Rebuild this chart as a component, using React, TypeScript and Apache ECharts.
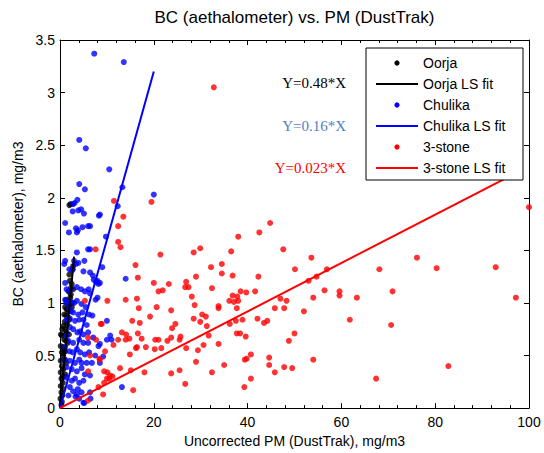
import { useEffect, useRef } from "react";
import * as echarts from "echarts";

const oorjaPoints: number[][] = [
  [2.3, 1.94], [2.0, 1.93], [2.8, 1.35], [2.7, 1.32], [2.0, 1.27], [2.1, 1.21], [2.5, 1.18], [2.3, 1.14],
  [1.8, 1.11], [2.3, 1.08], [2.8, 1.13], [1.3, 1.03], [1.6, 1.0], [2.1, 0.99], [2.6, 1.0], [2.5, 0.96],
  [1.4, 0.94], [1.1, 0.96], [0.9, 0.89], [1.3, 0.88], [1.8, 0.86], [2.0, 0.84], [0.7, 0.78], [1.1, 0.75],
  [1.4, 0.72], [1.9, 0.7], [0.4, 0.69], [0.9, 0.65], [1.3, 0.64], [1.6, 0.62], [0.15, 0.59], [0.7, 0.58],
  [1.1, 0.54], [0.4, 0.53], [0.6, 0.5], [0.9, 0.46], [0.15, 0.45], [1.3, 0.43], [0.4, 0.4], [0.7, 0.37],
  [0.15, 0.34], [1.1, 0.32], [0.3, 0.28], [0.6, 0.24], [0.15, 0.21], [0.7, 0.18], [0.3, 0.15], [0.5, 0.12],
  [0.1, 0.09], [0.4, 0.06], [1.0, 0.82], [0.5, 0.75], [1.2, 0.7], [0.8, 0.55], [0.2, 0.7], [1.5, 0.8],
  [0.3, 0.03], [0.8, 0.3], [1.7, 0.92], [2.2, 1.05],
];

const chulikaPoints: number[][] = [
  [7.3, 3.37], [13.6, 3.29], [4.1, 2.55], [5.5, 2.47], [10.5, 2.27], [4.1, 2.13], [5.3, 2.08], [13.3, 2.1],
  [20.0, 2.03], [3.7, 1.98], [3.1, 1.95], [2.8, 1.94], [12.3, 1.92], [2.7, 1.87], [3.9, 1.88], [4.5, 1.89],
  [5.1, 1.85], [8.3, 1.83], [1.1, 1.76], [3.4, 1.71], [4.8, 1.72], [6.0, 1.73], [6.4, 1.73], [1.9, 1.67],
  [3.6, 1.67], [3.8, 1.69], [9.8, 1.63], [6.4, 1.51], [6.0, 1.51], [3.6, 1.48], [0.9, 1.37], [1.1, 1.4],
  [3.0, 1.4], [3.4, 1.37], [3.9, 1.38], [5.2, 1.4], [9.0, 1.34], [2.6, 1.31], [2.0, 1.32], [5.0, 1.3],
  [6.4, 1.29], [7.0, 1.26], [7.2, 1.22], [7.7, 1.2], [8.0, 1.21], [8.2, 1.18], [14.0, 1.23], [1.1, 1.19],
  [1.4, 1.13], [2.1, 1.11], [3.6, 1.15], [4.5, 1.13], [5.3, 1.11], [6.1, 1.13], [6.4, 1.09], [7.6, 1.03],
  [8.0, 1.05], [1.1, 1.03], [1.3, 1.0], [2.3, 1.01], [3.0, 1.0], [3.6, 1.02], [4.6, 0.99], [5.5, 0.96],
  [2.0, 0.95], [2.3, 0.92], [2.8, 0.91], [3.9, 0.89], [4.8, 0.91], [6.2, 0.89], [6.9, 0.88], [10.0, 0.83],
  [1.4, 0.84], [2.1, 0.85], [3.2, 0.83], [4.1, 0.84], [5.0, 0.84], [5.7, 0.79], [2.1, 0.77], [2.8, 0.75],
  [3.7, 0.72], [4.3, 0.73], [5.0, 0.7], [6.0, 0.72], [7.1, 0.67], [10.7, 0.69], [10.0, 0.65], [11.0, 0.65],
  [1.4, 0.69], [1.8, 0.64], [2.8, 0.62], [4.1, 0.65], [5.0, 0.62], [6.0, 0.62], [8.2, 0.59], [8.5, 0.61],
  [1.1, 0.58], [2.0, 0.54], [2.7, 0.53], [3.6, 0.56], [4.3, 0.53], [5.3, 0.51], [6.2, 0.53], [7.5, 0.5],
  [9.2, 0.49], [1.1, 0.46], [2.1, 0.45], [3.2, 0.43], [4.1, 0.46], [4.6, 0.43], [5.7, 0.43], [6.8, 0.43],
  [8.5, 0.43], [1.4, 0.39], [2.5, 0.37], [3.6, 0.35], [4.6, 0.38], [5.3, 0.32], [6.4, 0.31], [1.4, 0.29],
  [2.5, 0.26], [3.2, 0.28], [4.1, 0.24], [5.0, 0.26], [2.1, 0.2], [2.8, 0.16], [3.8, 0.18], [4.6, 0.15],
  [6.4, 0.15], [13.2, 0.2], [1.8, 0.12], [3.6, 0.13], [5.0, 0.05], [4.1, 0.09], [6.5, 0.09], [5.2, 0.05],
  [3.3, 0.11], [8.5, 1.84], [8.5, 1.19],
];

const stonePoints: number[][] = [
  [32.8, 3.05], [11.5, 1.97], [19.5, 1.96], [100, 1.91], [13.5, 1.82], [44.8, 1.76], [12.4, 1.73], [42.5, 1.67],
  [38.0, 1.63], [12.4, 1.58], [12.9, 1.53], [7.6, 1.51], [47.6, 1.51], [36.5, 1.49], [28.5, 1.48], [29.9, 1.52],
  [21.4, 1.46], [53.6, 1.43], [76.1, 1.43], [16.1, 1.36], [32.2, 1.34], [34.5, 1.37], [68.1, 1.32], [80.3, 1.33],
  [92.9, 1.34], [50.1, 1.32], [56.9, 1.32], [34.5, 1.28], [36.8, 1.26], [29.0, 1.25], [42.3, 1.25], [54.7, 1.25],
  [16.6, 1.24], [53.0, 1.21], [20.0, 1.19], [26.9, 1.2], [23.2, 1.18], [32.4, 1.14], [26.7, 1.15], [27.4, 1.15],
  [56.4, 1.12], [21.0, 1.11], [21.9, 1.12], [38.5, 1.11], [39.7, 1.1], [41.6, 1.11], [59.6, 1.11], [59.6, 1.07],
  [70.9, 1.11], [36.8, 1.07], [37.8, 1.06], [28.1, 1.06], [54.0, 1.05], [63.3, 1.05], [97.2, 1.05], [47.0, 1.04],
  [48.3, 1.02], [36.1, 1.02], [37.1, 1.01], [38.0, 1.02], [10.1, 1.02], [5.3, 1.02], [14.0, 1.03], [16.4, 1.04],
  [20.6, 0.96], [28.7, 0.98], [33.8, 0.97], [33.8, 0.95], [37.7, 0.95], [45.8, 0.95], [47.8, 0.95], [16.8, 0.95],
  [23.7, 0.93], [52.0, 0.92], [19.2, 0.87], [28.5, 0.85], [30.3, 0.89], [31.1, 0.87], [15.4, 0.83], [17.0, 0.81],
  [8.9, 0.8], [8.7, 0.8], [29.9, 0.82], [24.6, 0.8], [36.2, 0.8], [37.5, 0.83], [38.9, 0.84], [42.1, 0.85],
  [43.5, 0.81], [44.2, 0.83], [61.8, 0.84], [31.3, 0.78], [70.6, 0.79], [23.9, 0.76], [13.2, 0.72], [14.1, 0.7],
  [14.8, 0.66], [14.0, 0.65], [16.6, 0.71], [17.4, 0.66], [12.4, 0.65], [6.0, 0.67], [7.7, 0.65], [37.7, 0.71],
  [38.4, 0.71], [50.0, 0.71], [31.7, 0.69], [39.6, 0.68], [25.7, 0.68], [25.5, 0.65], [20.3, 0.65], [21.0, 0.65],
  [23.7, 0.67], [22.9, 0.64], [48.8, 0.64], [11.4, 0.6], [30.6, 0.6], [33.8, 0.61], [16.2, 0.57], [16.4, 0.58],
  [18.3, 0.58], [26.9, 0.57], [20.2, 0.56], [21.6, 0.57], [29.4, 0.55], [9.6, 0.54], [14.9, 0.51], [40.7, 0.51],
  [8.5, 0.46], [8.4, 0.47], [6.4, 0.5], [39.4, 0.46], [39.8, 0.47], [54.0, 0.46], [29.0, 0.44], [44.6, 0.48],
  [35.0, 0.41], [44.6, 0.41], [82.8, 0.4], [12.8, 0.38], [47.8, 0.39], [49.5, 0.38], [15.1, 0.36], [18.0, 0.34],
  [9.4, 0.35], [10.1, 0.34], [10.7, 0.31], [11.2, 0.3], [10.0, 0.28], [9.4, 0.24], [6.0, 0.35], [25.5, 0.36],
  [23.7, 0.33], [32.4, 0.34], [45.8, 0.34], [10.5, 0.28], [40.7, 0.28], [67.4, 0.28], [26.7, 0.23], [8.2, 0.2],
  [39.3, 0.2], [15.6, 0.17], [9.2, 0.13], [5.9, 0.07],
];

const seriesNames = ["Oorja", "Chulika", "3-stone"];
const seriesColors = ["#000000", "#0000ff", "#ff0000"];
const fitSlopes = [0.48, 0.16, 0.023];
const fitXMax = [3, 20, 98];
const fitLabels = ["Y=0.48*X", "Y=0.16*X", "Y=0.023*X"];
const fitLabelColors = ["#000000", "#4f7fc0", "#ff0000"];

const titleText = "BC (aethalometer) vs. PM (DustTrak)";
const xTitle = "Uncorrected PM (DustTrak), mg/m3";
const yTitle = "BC (aethalometer), mg/m3";

const SANS = "'Liberation Sans', Arial, Helvetica, sans-serif";
const SERIF = "'Liberation Serif', 'Times New Roman', serif";

export default function App() {
  const ref = useRef<HTMLDivElement>(null);

  useEffect(() => {
    if (!ref.current) return;
    const chart = echarts.init(ref.current, null, { renderer: "svg" });

    const pointSets = [oorjaPoints, chulikaPoints, stonePoints];
    const series: any[] = [];
    seriesNames.forEach((name, i) => {
      series.push({
        name,
        type: "scatter",
        data: pointSets[i],
        symbol: "circle",
        symbolSize: 6,
        itemStyle: { color: seriesColors[i] },
        xAxisIndex: 0,
        yAxisIndex: 0,
      });
      series.push({
        name: name + " LS fit",
        type: "line",
        data: [
          [0, 0],
          [fitXMax[i], fitSlopes[i] * fitXMax[i]],
        ],
        showSymbol: false,
        symbol: "none",
        lineStyle: { color: seriesColors[i], width: 2 },
        itemStyle: { color: seriesColors[i] },
        xAxisIndex: 0,
        yAxisIndex: 0,
      });
    });

    const tickCommon = {
      axisLine: { show: true, onZero: false, lineStyle: { color: "#000", width: 1 } },
      axisTick: { show: true, inside: true, length: 5, lineStyle: { color: "#000", width: 1 } },
      splitLine: { show: false },
    };

    // Legend (MATLAB-style box) built from graphic elements, drawn above the series
    const Z = 100;
    const legendX = 366;
    const legendY = 48;
    const legendW = 157;
    const legendH = 132;
    const rowH = 21;
    const legendChildren: any[] = [
      {
        type: "rect",
        z: Z,
        shape: { x: legendX, y: legendY, width: legendW, height: legendH },
        style: { fill: "#ffffff", stroke: "#000000", lineWidth: 1 },
      },
    ];
    seriesNames.forEach((name, i) => {
      const yPt = legendY + 15 + rowH * (2 * i);
      const yLn = yPt + rowH;
      legendChildren.push({
        type: "circle",
        z: Z + 1,
        shape: { cx: 397, cy: yPt, r: 2.6 },
        style: { fill: seriesColors[i] },
      });
      legendChildren.push({
        type: "text",
        z: Z + 1,
        x: 423,
        y: yPt,
        style: { text: name, fontSize: 14, fontFamily: SANS, fill: "#000", align: "left", verticalAlign: "middle" },
      });
      legendChildren.push({
        type: "line",
        z: Z + 1,
        shape: { x1: 376, y1: yLn, x2: 418, y2: yLn },
        style: { stroke: seriesColors[i], lineWidth: 2 },
      });
      legendChildren.push({
        type: "text",
        z: Z + 1,
        x: 423,
        y: yLn,
        style: {
          text: name + " LS fit",
          fontSize: 14,
          fontFamily: SANS,
          fill: "#000",
          align: "left",
          verticalAlign: "middle",
        },
      });
    });

    const annotationY = [83, 126, 168];
    const annotations = fitLabels.map((t, i) => ({
      type: "text",
      z: Z,
      x: 346,
      y: annotationY[i],
      style: {
        text: t,
        fontSize: 15,
        fontFamily: SERIF,
        fill: fitLabelColors[i],
        align: "right",
        verticalAlign: "middle",
      },
    }));

    const option: any = {
      animation: false,
      backgroundColor: "#ffffff",
      title: {
        text: titleText,
        left: 294.5,
        top: 9,
        padding: 0,
        textAlign: "center",
        textStyle: { fontSize: 17, fontWeight: "normal", fontFamily: SANS, color: "#000" },
      },
      grid: { left: 60, right: 15, top: 40, bottom: 44, containLabel: false },
      xAxis: [
        {
          type: "value",
          position: "bottom",
          min: 0,
          max: 100,
          interval: 20,
          ...tickCommon,
          minorTick: { show: true, splitNumber: 5, length: 3, lineStyle: { color: "#000", width: 1 } },
          axisLabel: { color: "#000", fontSize: 14, fontFamily: SANS, margin: 7 },
          name: xTitle,
          nameLocation: "middle",
          nameGap: 25,
          nameTextStyle: { color: "#000", fontSize: 14, fontFamily: SANS },
        },
        {
          type: "value",
          position: "top",
          min: 0,
          max: 100,
          interval: 20,
          ...tickCommon,
          minorTick: { show: true, splitNumber: 5, length: 3, lineStyle: { color: "#000", width: 1 } },
          axisLabel: { show: false },
        },
      ],
      yAxis: [
        {
          type: "value",
          position: "left",
          min: 0,
          max: 3.5,
          interval: 0.5,
          ...tickCommon,
          axisLabel: { color: "#000", fontSize: 14, fontFamily: SANS, margin: 5 },
          name: yTitle,
          nameLocation: "middle",
          nameGap: 35,
          nameRotate: 90,
          nameTextStyle: { color: "#000", fontSize: 14, fontFamily: SANS },
        },
        {
          type: "value",
          position: "right",
          min: 0,
          max: 3.5,
          interval: 0.5,
          ...tickCommon,
          axisLabel: { show: false },
        },
      ],
      series,
      graphic: [...annotations, ...legendChildren],
    };

    chart.setOption(option);
    return () => {
      chart.dispose();
    };
  }, []);

  return (
    <div
      ref={ref}
      style={{ position: "fixed", left: 0, top: 0, width: 544, height: 453, background: "#fff" }}
    />
  );
}
